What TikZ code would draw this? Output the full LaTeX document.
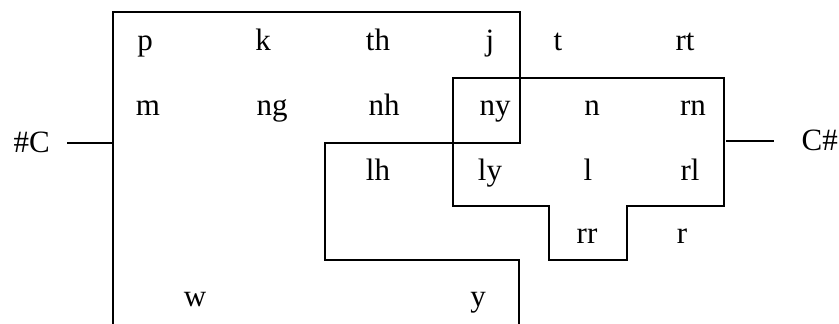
\documentclass[tikz,border=0pt]{standalone}
\usepackage{fontspec}
\setmainfont{Liberation Serif}
\tikzset{seg/.style={line width=2pt, line cap=rect},
  phon/.style={font=\fontsize{31}{34}\selectfont, inner sep=0pt, anchor=base}}

\begin{document}
\begin{tikzpicture}[x=1pt, y=-1pt]
      \useasboundingbox (0,0) rectangle (839,324);
      % phonemes, row by row
      \node[phon] (p) at (145,50) {p};
      \node[phon] (k) at (263,50) {k};
      \node[phon] (th) at (378,50) {th};
      \node[phon] (j) at (490,50) {j};
      \node[phon] (t) at (558,50) {t};
      \node[phon] (rt) at (685,50) {rt};
      \node[phon] (m) at (148,115) {m};
      \node[phon] (ng) at (272,115) {ng};
      \node[phon] (nh) at (384,115) {nh};
      \node[phon] (ny) at (495,115) {ny};
      \node[phon] (n) at (592,115) {n};
      \node[phon] (rn) at (693,115) {rn};
      \node[phon] (lh) at (378,180) {lh};
      \node[phon] (ly) at (490,180) {ly};
      \node[phon] (l) at (588,180) {l};
      \node[phon] (rl) at (690,180) {rl};
      \node[phon] (rr) at (587,243) {rr};
      \node[phon] (r) at (682,243) {r};
      \node[phon] (w) at (195,306) {w};
      \node[phon] (y) at (478,306) {y};
      % edges
      \node[phon, anchor=base east] (left) at (50,152) {\#C};
      \node[phon, anchor=base east] (right) at (838,150) {C\#};
      \coordinate (lstub) at (113,143);
      \coordinate (rstub) at (727,141);
      \draw[seg] (left.east |- lstub) ++(18,0) -- (lstub);
      \draw[seg] (rstub) -- ++(46,0);
      % first region
      \draw[seg] (113,324) -- (113,12) -- (520,12) -- (520,143) -- (325,143)
        -- (325,260) -- (519,260) -- (519,324);
      % second region
      \draw[seg] (453,78) -- (724,78) -- (724,206) -- (627,206) -- (627,260)
        -- (549,260) -- (549,206) -- (453,206) -- cycle;
\end{tikzpicture}
\end{document}
